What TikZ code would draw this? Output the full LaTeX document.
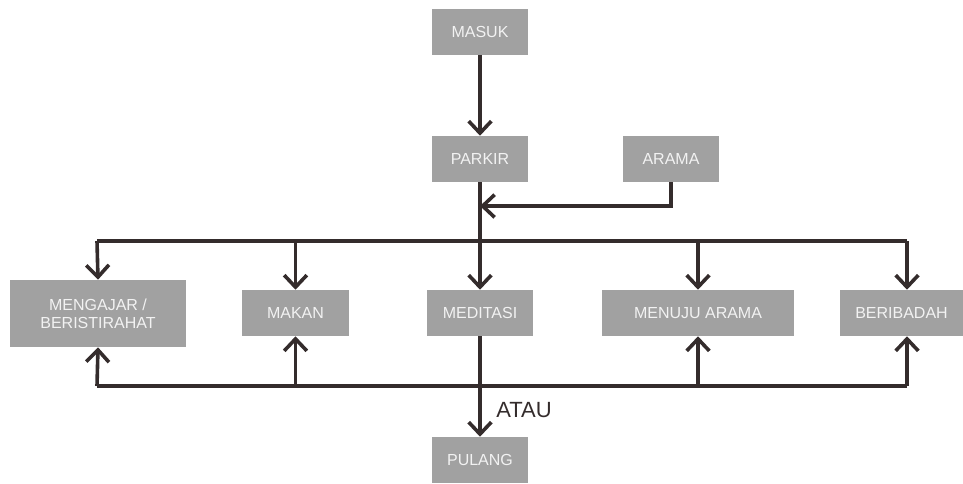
\documentclass[tikz,border=0pt]{standalone}
\usepackage{fontspec}
\setmainfont{Liberation Sans}
\usetikzlibrary{arrows.meta}
\definecolor{boxgray}{RGB}{161,161,161}
\definecolor{boxtext}{RGB}{242,242,242}
\definecolor{linedark}{RGB}{52,44,44}

\begin{document}
\begin{tikzpicture}[x=0.75pt,y=0.75pt,yscale=-1,xscale=1,
  blok/.style={fill=boxgray,text=boxtext,inner sep=0pt,align=center,font=\fontsize{12}{13.5}\selectfont},
  garis/.style={draw=linedark,line width=2.7pt},
  alur/.style={garis,-{Straight Barb[length=9pt,width=17pt]}}]
\useasboundingbox (0,0) rectangle (963,483);

% Boxes
\node[blok,minimum width=72pt,minimum height=34.5pt] (masuk) at (480,31.5) {MASUK};
\node[blok,minimum width=72pt,minimum height=34.5pt] (parkir) at (480,159) {PARKIR};
\node[blok,minimum width=72pt,minimum height=34.5pt] (arama) at (671,159) {ARAMA};
\node[blok,minimum width=132pt,minimum height=50.25pt] (mengajar) at (98,313.5) {MENGAJAR /\\BERISTIRAHAT};
\node[blok,minimum width=80.25pt,minimum height=34.5pt] (makan) at (295.5,313) {MAKAN};
\node[blok,minimum width=79.5pt,minimum height=34.5pt] (meditasi) at (480,313) {MEDITASI};
\node[blok,minimum width=144pt,minimum height=34.5pt] (menuju) at (698,313) {MENUJU ARAMA};
\node[blok,minimum width=92.25pt,minimum height=34.5pt] (beribadah) at (901.5,313) {BERIBADAH};
\node[blok,minimum width=72pt,minimum height=34.5pt] (pulang) at (480,460) {PULANG};

% Junctions of the two buses
\coordinate (gabung) at (480,206);
\coordinate (atas) at (480,241);
\coordinate (kiriatas) at (97,241);
\coordinate (kananatas) at (907,241);
\coordinate (kiribawah) at (97,386);
\coordinate (kananbawah) at (907,386);

% Entrance
\draw[alur] (masuk) -- (parkir);
\draw[alur] (arama.south) |- (gabung);
\draw[garis] (parkir.south) -- (atas);

% Upper bus
\draw[garis] (kiriatas) -- (kananatas);
\draw[alur] (kiriatas) -- (mengajar.north);
\draw[alur] (makan.north |- atas) -- (makan.north);
\draw[alur] (atas) -- (meditasi.north);
\draw[alur] (menuju.north |- atas) -- (menuju.north);
\draw[alur] (kananatas) -- (kananatas |- beribadah.north);

% Lower bus
\draw[garis] (kiribawah) -- (kananbawah);
\draw[alur] (kiribawah) -- (mengajar.south);
\draw[alur] (makan.south |- kiribawah) -- (makan.south);
\draw[alur] (menuju.south |- kiribawah) -- (menuju.south);
\draw[alur] (kananbawah) -- (kananbawah |- beribadah.south);

% Exit
\draw[alur] (meditasi) -- (pulang);
\node[anchor=west,inner sep=0pt,text=linedark,font=\fontsize{16.5}{18}\selectfont] (atau) at (496,410) {ATAU};

\end{tikzpicture}
\end{document}
